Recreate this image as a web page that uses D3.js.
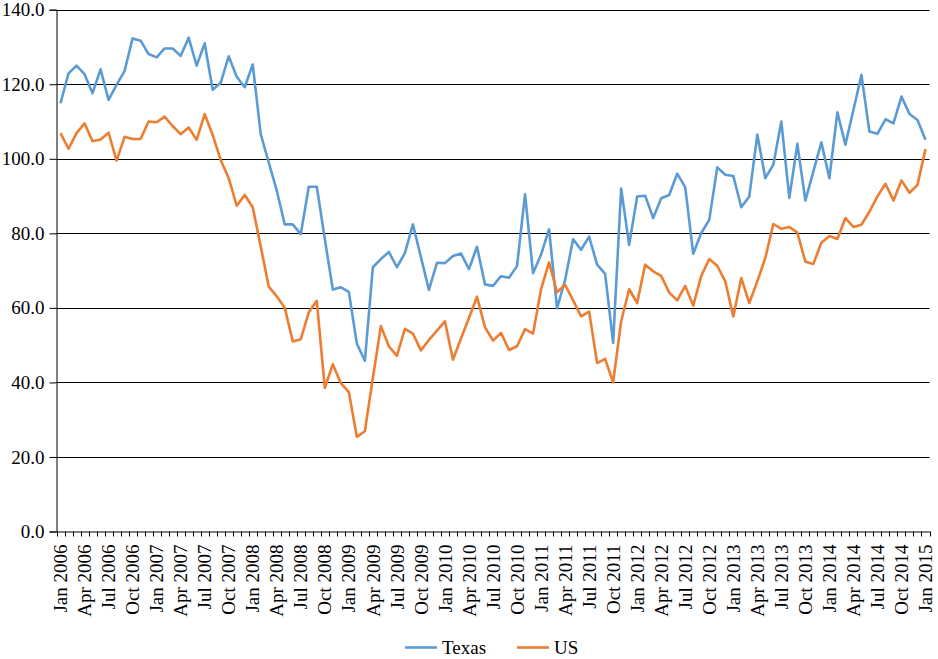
<!doctype html>
<html lang="en">
  <head>
    <meta charset="utf-8">
    <title>Texas vs US</title>
    <style>
      body { margin: 0; background: #fff; }
      svg { display: block; }
      svg text { font-family: "Liberation Serif", "Times New Roman", serif; font-size: 19px; fill: #000; }
    </style>
    <script src="https://cdn.jsdelivr.net/npm/d3@7"></script>
  </head>
  <body>
    <svg id="chart" width="938" height="659"></svg>
    <script>
      // monthly, Jan 2006 .. Jan 2015
      const months = d3.timeMonth.range(new Date(2006, 0, 1), new Date(2015, 1, 1));
      const yTicks = [0, 20, 40, 60, 80, 100, 120, 140];
      const seriesNames = ["Texas", "US"];

      const texas = [
        114.9, 122.9, 125.0, 122.7, 117.6, 124.0, 115.8, 119.8, 123.6, 132.3, 131.7, 128.1,
        127.2, 129.6, 129.6, 127.6, 132.5, 125.0, 131.0, 118.5, 120.4, 127.5, 122.0, 119.2,
        125.3, 106.6, 99.0, 91.5, 82.4, 82.4, 79.8, 92.5, 92.5, 78.5, 64.9, 65.5,
        64.3, 50.4, 45.8, 70.9, 73.1, 75.0, 70.9, 74.7, 82.4, 73.6, 64.8, 72.1,
        72.0, 73.9, 74.6, 70.4, 76.4, 66.3, 65.9, 68.5, 68.1, 71.2, 90.5, 69.3,
        74.3, 81.1, 59.9, 67.5, 78.4, 75.6, 79.1, 71.6, 69.1, 50.6, 92.0, 76.9,
        89.9, 90.1, 84.1, 89.4, 90.3, 96.0, 92.4, 74.5, 80.1, 83.6, 97.7, 95.7,
        95.4, 87.0, 89.9, 106.5, 94.8, 98.4, 110.0, 89.5, 104.0, 88.8, 96.6, 104.4,
        94.8, 112.5, 103.8, 113.1, 122.5, 107.3, 106.7, 110.6, 109.5, 116.7, 112.0, 110.4,
        105.1
      ];
      const us = [
        106.9, 102.7, 106.9, 109.5, 104.7, 105.2, 107.0, 99.5, 105.9, 105.3, 105.3, 110.0,
        109.8, 111.3, 108.8, 106.6, 108.4, 105.1, 112.0, 106.4, 99.7, 94.8, 87.4, 90.3,
        87.0, 76.5, 65.7, 63.1, 60.0, 51.0, 51.6, 58.8, 61.9, 38.5, 44.9, 39.8,
        37.4, 25.4, 26.9, 41.2, 55.1, 49.7, 47.1, 54.4, 53.1, 48.6, 51.4, 53.9,
        56.4, 46.1, 51.8, 57.3, 63.0, 54.8, 51.2, 53.3, 48.7, 49.7, 54.3, 53.1,
        65.0, 72.2, 64.2, 66.2, 62.0, 57.7, 59.0, 45.2, 46.3, 40.0, 56.4, 65.0,
        61.3, 71.6, 69.8, 68.6, 64.1, 62.0, 65.9, 60.6, 68.6, 73.1, 71.3, 67.1,
        57.7, 68.0, 61.3, 67.1, 73.4, 82.5, 81.2, 81.7, 80.2, 72.4, 71.8, 77.5,
        79.3, 78.5, 84.1, 81.7, 82.3, 85.8, 89.9, 93.3, 88.8, 94.2, 90.9, 93.0,
        102.6
      ];
      const colors = ["#5b9bd5", "#ed7d31"];

      const svg = d3.select("#chart");
      const plotLeft = 56.5, plotRight = 929.5, plotTop = 9.7, plotBottom = 531.5;
      const fmtMonth = d3.timeFormat("%b %Y");

      const x = d3.scaleBand().domain(months).range([plotLeft, plotRight]);
      const xc = (d) => x(d) + x.bandwidth() / 2;
      const y = d3.scaleLinear().domain([0, 140]).range([plotBottom, plotTop]);

      svg.append("rect").attr("width", 938).attr("height", 659).attr("fill", "#fff");

      // gridlines
      svg.append("g")
        .selectAll("line")
        .data(yTicks.filter((d) => d > 0))
        .join("line")
        .attr("x1", plotLeft)
        .attr("x2", plotRight)
        .attr("y1", (d) => Math.round(y(d)) + 0.5)
        .attr("y2", (d) => Math.round(y(d)) + 0.5)
        .attr("stroke", "#000")
        .attr("stroke-width", 1.2);

      // y axis
      const yAxis = svg.append("g")
        .attr("transform", `translate(${plotLeft},0)`)
        .call(d3.axisLeft(y).tickValues(yTicks).tickFormat(d3.format(".1f")).tickSize(7).tickPadding(5));
      yAxis.selectAll("line,path").attr("stroke", "#000");

      // x axis: labels every quarter, tick marks on month boundaries
      const xAxis = svg.append("g")
        .attr("transform", `translate(0,${plotBottom})`)
        .call(d3.axisBottom(x).tickValues(months.filter((d, i) => i % 3 === 0)).tickFormat(fmtMonth).tickSize(0).tickSizeOuter(0));
      xAxis.select(".domain").attr("stroke", "#000");
      xAxis.selectAll("text")
        .attr("transform", "rotate(-90)")
        .attr("x", -13)
        .attr("y", 0)
        .attr("dy", "0.35em")
        .attr("text-anchor", "end");

      const bounds = months.map((d) => x(d)).concat([plotRight]);
      xAxis.append("g")
        .selectAll("line")
        .data(bounds)
        .join("line")
        .attr("x1", (d) => Math.round(d) + 0.5)
        .attr("x2", (d) => Math.round(d) + 0.5)
        .attr("y1", 0)
        .attr("y2", 5)
        .attr("stroke", "#000");

      // series
      const line = d3.line().x((d, i) => xc(months[i])).y((d) => y(d));
      [texas, us].forEach((values, k) => {
        svg.append("path")
          .datum(values)
          .attr("fill", "none")
          .attr("stroke", colors[k])
          .attr("stroke-width", 2.6)
          .attr("stroke-linejoin", "round")
          .attr("d", line);
      });

      // legend
      const legend = svg.append("g").attr("transform", "translate(405,647.5)");
      const items = legend.selectAll("g")
        .data(seriesNames)
        .join("g")
        .attr("transform", (d, i) => `translate(${i * 112},0)`);
      items.append("line")
        .attr("x1", 0).attr("x2", 32)
        .attr("stroke", (d, i) => colors[i])
        .attr("stroke-width", 2.6);
      items.append("text")
        .attr("x", 37)
        .attr("dy", "0.35em")
        .text((d) => d);
    </script>
  </body>
</html>
